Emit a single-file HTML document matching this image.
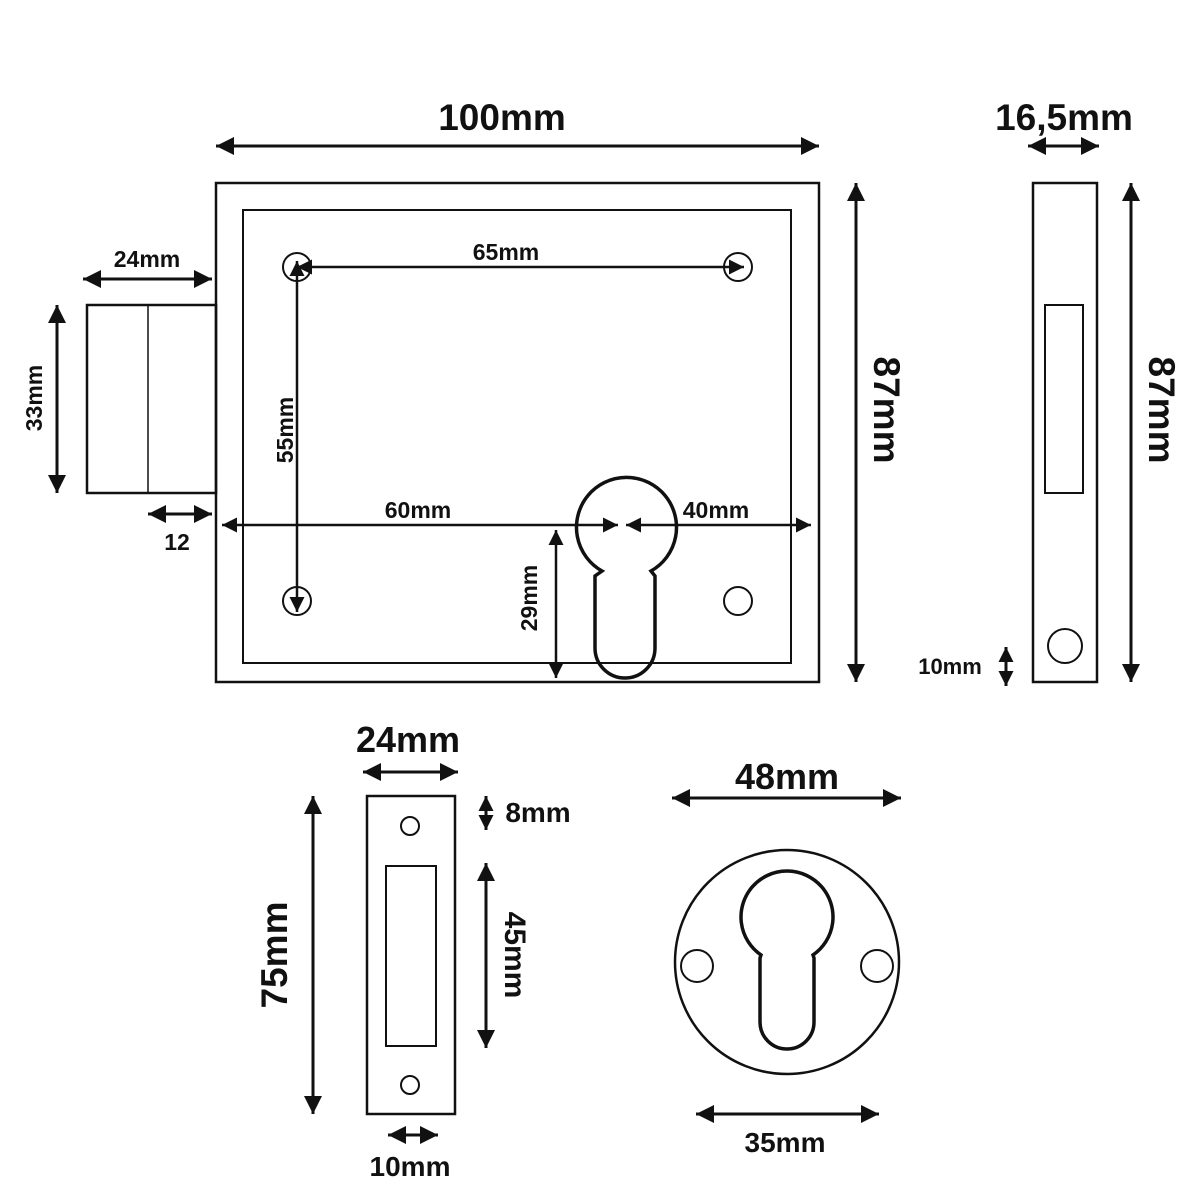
<!DOCTYPE html>
<html><head><meta charset="utf-8"><style>
html,body{margin:0;padding:0;background:#fff;}
svg{display:block;}
text{font-family:"Liberation Sans",Arial,sans-serif;font-weight:bold;fill:#111;}
</style></head><body>
<svg width="1200" height="1200" viewBox="0 0 1200 1200" xmlns="http://www.w3.org/2000/svg">
<defs>
<marker id="b" viewBox="0 0 10 10" refX="10" refY="5" markerWidth="18" markerHeight="18" orient="auto-start-reverse" markerUnits="userSpaceOnUse">
<path d="M0,0 L10,5 L0,10 z" fill="#111"/>
</marker>
<marker id="c" viewBox="0 0 10 10" refX="10" refY="5" markerWidth="15" markerHeight="15" orient="auto-start-reverse" markerUnits="userSpaceOnUse">
<path d="M0,0 L10,5 L0,10 z" fill="#111"/>
</marker>
</defs>
<g fill="none" stroke="#111">
<rect x="216" y="183" width="603" height="499" stroke-width="2.5"/>
<rect x="243" y="210" width="548" height="453" stroke-width="2"/>
<circle cx="297" cy="267" r="14" stroke-width="2"/>
<circle cx="738" cy="267" r="14" stroke-width="2"/>
<circle cx="297" cy="601" r="14" stroke-width="2"/>
<circle cx="738" cy="601" r="14" stroke-width="2"/>
<path d="M602,571 A50,50 0 1 1 651,571 L655,576 L655,648 A30,30 0 0 1 595,648 L595,576 Z" stroke-width="3.5"/>
<rect x="87" y="305" width="129" height="188" stroke-width="2.5"/>
<line x1="148" y1="305" x2="148" y2="493" stroke-width="1.5"/>
<rect x="1033" y="183" width="64" height="499" stroke-width="2.5"/>
<rect x="1045" y="305" width="38" height="188" stroke-width="2"/>
<circle cx="1065" cy="646" r="17" stroke-width="2"/>
<rect x="367" y="796" width="88" height="318" stroke-width="2.5"/>
<rect x="386" y="866" width="50" height="180" stroke-width="2"/>
<circle cx="410" cy="826" r="9" stroke-width="2"/>
<circle cx="410" cy="1085" r="9" stroke-width="2"/>
<circle cx="787" cy="962" r="112" stroke-width="2.5"/>
<circle cx="697" cy="966" r="16" stroke-width="2"/>
<circle cx="877" cy="966" r="16" stroke-width="2"/>
<path d="M761,955 A46,46 0 1 1 813,955 L814,958 L814,1022 A27,27 0 0 1 760,1022 L760,958 Z" stroke-width="3.5"/>
</g>
<g stroke="#111" stroke-width="3" fill="none" marker-start="url(#b)" marker-end="url(#b)">
<line x1="216" y1="146" x2="819" y2="146"/>
<line x1="856" y1="183" x2="856" y2="682"/>
<line x1="83" y1="279" x2="212" y2="279"/>
<line x1="57" y1="305" x2="57" y2="493"/>
<line x1="148" y1="514" x2="212" y2="514"/>
<line x1="1028" y1="146" x2="1099" y2="146"/>
<line x1="1131" y1="183" x2="1131" y2="682"/>
<line x1="363" y1="772" x2="458" y2="772"/>
<line x1="486" y1="863" x2="486" y2="1048"/>
<line x1="313" y1="796" x2="313" y2="1114"/>
<line x1="388" y1="1135" x2="438" y2="1135"/>
<line x1="672" y1="798" x2="901" y2="798"/>
<line x1="696" y1="1114" x2="879" y2="1114"/>
</g>
<g stroke="#111" stroke-width="3" fill="none" marker-start="url(#c)" marker-end="url(#c)">
<line x1="1006" y1="647" x2="1006" y2="686"/>
<line x1="486" y1="796" x2="486" y2="830"/>
</g>
<g stroke="#111" stroke-width="2.5" fill="none" marker-start="url(#c)" marker-end="url(#c)">
<line x1="297" y1="267" x2="744" y2="267"/>
<line x1="297" y1="261" x2="297" y2="612"/>
<line x1="222" y1="525" x2="618" y2="525"/>
<line x1="626" y1="525" x2="811" y2="525"/>
<line x1="556" y1="530" x2="556" y2="678"/>
</g>
<g text-anchor="middle">
<text x="502" y="130" font-size="37">100mm</text>
<text x="1064" y="130" font-size="37">16,5mm</text>
<text x="147" y="267" font-size="23">24mm</text>
<text x="177" y="550" font-size="23">12</text>
<text x="506" y="260" font-size="23">65mm</text>
<text x="418" y="518" font-size="23">60mm</text>
<text x="716" y="518" font-size="23">40mm</text>
<text x="950" y="674" font-size="22">10mm</text>
<text x="408" y="752" font-size="36">24mm</text>
<text x="538" y="822" font-size="28">8mm</text>
<text x="410" y="1176" font-size="28">10mm</text>
<text x="787" y="789" font-size="36">48mm</text>
<text x="785" y="1152" font-size="28">35mm</text>
<text transform="translate(874,410) rotate(90)" font-size="37">87mm</text>
<text transform="translate(1149,410) rotate(90)" font-size="37">87mm</text>
<text transform="translate(42,398) rotate(-90)" font-size="23">33mm</text>
<text transform="translate(293,430) rotate(-90)" font-size="23">55mm</text>
<text transform="translate(537,598) rotate(-90)" font-size="23">29mm</text>
<text transform="translate(505,955) rotate(90)" font-size="30">45mm</text>
<text transform="translate(287,955) rotate(-90)" font-size="37">75mm</text>
</g>
</svg>
</body></html>
